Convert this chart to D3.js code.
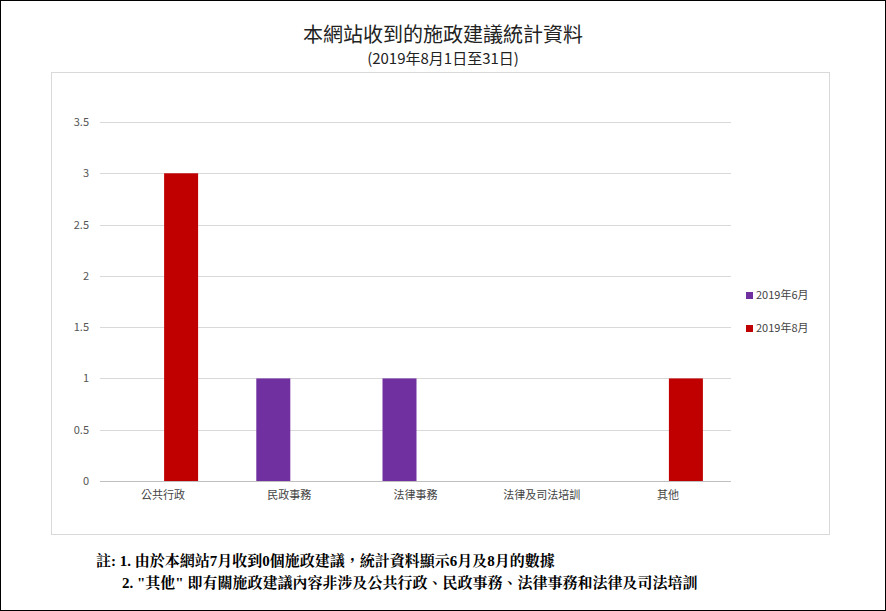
<!DOCTYPE html>
<html><head><meta charset="utf-8">
<script src="https://cdn.jsdelivr.net/npm/d3@7"></script>
<style>body{margin:0;background:#fff}</style>
</head><body>
<div id="chart"></div>
<script>
var categories = ["公共行政", "民政事務", "法律事務", "法律及司法培訓", "其他"];
var seriesNames = ["2019年6月", "2019年8月"];
var june = [0, 1, 1, 0, 0];
var august = [3, 0, 0, 0, 1];
var yTicks = [0, 0.5, 1, 1.5, 2, 2.5, 3, 3.5];
var colors = ["#7030A0", "#C00000"];

var W = 886, H = 611;
var svg = d3.select("#chart").append("svg").attr("width", W).attr("height", H);
var cjk = "'Noto Sans CJK TC', 'Noto Sans', sans-serif";

svg.append("rect").attr("x", 0.5).attr("y", 0.5).attr("width", W - 1).attr("height", H - 1)
  .attr("fill", "#fff").attr("stroke", "#000");

svg.append("text").attr("x", 443).attr("y", 42).attr("text-anchor", "middle")
  .style("font-family", cjk).style("font-size", "20px").style("fill", "#222").text("本網站收到的施政建議統計資料");
svg.append("text").attr("x", 443).attr("y", 64).attr("text-anchor", "middle")
  .style("font-family", cjk).style("font-size", "15px").style("fill", "#222").text("(2019年8月1日至31日)");

svg.append("rect").attr("x", 51.5).attr("y", 72.5).attr("width", 778).attr("height", 462)
  .attr("fill", "none").attr("stroke", "#d9d9d9");

var x = d3.scaleBand().domain(categories).range([100, 731]);
var y = d3.scaleLinear().domain([0, 3.5]).range([481, 122]);

var g = svg.append("g");
g.selectAll(".grid").data(yTicks).enter().append("line")
  .attr("x1", 100).attr("x2", 731)
  .attr("y1", function(d) { return Math.round(y(d)) + 0.5; })
  .attr("y2", function(d) { return Math.round(y(d)) + 0.5; })
  .attr("stroke", function(d) { return d === 0 ? "#bfbfbf" : "#d9d9d9"; });

var yAxis = svg.append("g").attr("transform", "translate(92,0)")
  .call(d3.axisLeft(y).tickValues(yTicks).tickSize(0).tickFormat(d3.format("")));
yAxis.select(".domain").remove();
yAxis.selectAll("text").style("font-family", cjk).style("font-size", "11px").style("fill", "#555");

var xAxis = svg.append("g").attr("transform", "translate(0,488)")
  .call(d3.axisBottom(x).tickSize(0));
xAxis.select(".domain").remove();
xAxis.selectAll("text").style("font-family", cjk).style("font-size", "11px").style("fill", "#444");

var bw = 34;
var series = [june, august];
series.forEach(function(vals, si) {
  svg.append("g").selectAll("rect").data(vals).enter().append("rect")
    .attr("x", function(d, i) { return x(categories[i]) + x.bandwidth() / 2 - bw + si * bw + 1; })
    .attr("y", function(d) { return y(d); })
    .attr("width", bw)
    .attr("height", function(d) { return y(0) - y(d); })
    .attr("fill", colors[si]);
});

seriesNames.forEach(function(n, i) {
  var ly = 296 + i * 33;
  svg.append("rect").attr("x", 746).attr("y", ly - 4).attr("width", 7).attr("height", 7).attr("fill", colors[i]);
  svg.append("text").attr("x", 756).attr("y", ly + 3).style("font-family", cjk)
    .style("font-size", "11px").style("fill", "#444").text(n);
});

var serif = "'Liberation Serif', 'Noto Serif CJK TC', 'Noto Sans CJK TC', serif";
svg.append("text").attr("x", 96).attr("y", 566).style("font-family", serif).style("font-weight", "bold")
  .style("font-size", "15px").text("註: 1. 由於本網站7月收到0個施政建議，統計資料顯示6月及8月的數據");
svg.append("text").attr("x", 122).attr("y", 588).style("font-family", serif).style("font-weight", "bold")
  .style("font-size", "15px").text("2. \"其他\" 即有關施政建議內容非涉及公共行政、民政事務、法律事務和法律及司法培訓");
</script>
</body></html>
